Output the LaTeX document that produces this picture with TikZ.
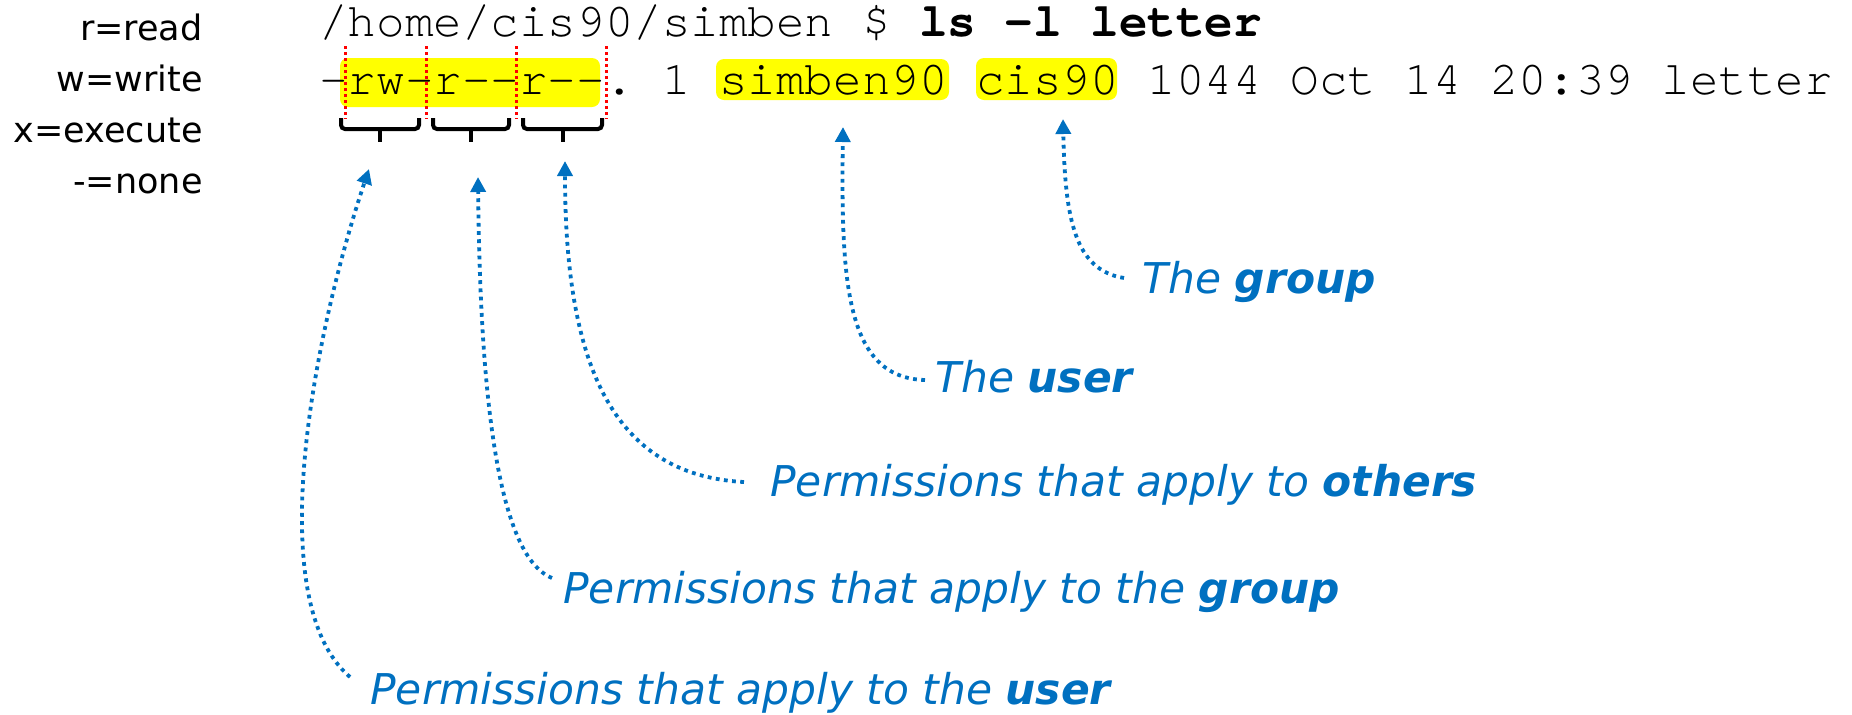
\documentclass[tikz,border=0pt]{standalone}
\usepackage{fontspec}
\setmainfont{DejaVu Sans}
\setmonofont{TeX Gyre Cursor}
\usetikzlibrary{positioning, arrows.meta, calc}
\definecolor{cNote}{HTML}{0070C0}
\definecolor{cMark}{HTML}{FFFF00}
\definecolor{cSplit}{HTML}{FF0000}

\begin{document}
\begin{tikzpicture}[x=0.5pt, y=-0.5pt,
    term/.style={font=\ttfamily\fontsize{23.8}{28}\selectfont, inner sep=0pt, anchor=base west},
    legend/.style={font=\fontsize{17.5}{21}\selectfont, inner sep=0pt, anchor=base east},
    note/.style={font=\itshape\fontsize{21.2}{25}\selectfont, text=cNote, inner sep=0pt, anchor=base west},
    callout/.style={draw=cNote, line width=1.9pt, dash pattern=on 1.9pt off 2.2pt,
      -{Triangle[length=7.5pt, width=7.5pt]}},
    hl/.style={fill=cMark, rounded corners=4pt},
    split/.style={draw=cSplit, line width=1.5pt, dash pattern=on 1.5pt off 1.5pt},
    bracket/.style={draw=black, line width=2pt, rounded corners=2pt}]
  \useasboundingbox (0,0) rectangle (1852,714);

  % highlighted fields
  \fill[hl] (340,58) rectangle (600,107);
  \fill[hl] (716,59) rectangle (949,100);
  \fill[hl] (976,58) rectangle (1117,100);

  \node[term] (prompt) at (319,36) {/home/cis90/simben \$ \textbf{ls -l letter}};
  \node[term] (listing) at (319,94) {-rw-r--r--. 1 simben90 cis90 1044 Oct 14 20:39 letter};

  \foreach \txt/\yy [count=\k] in {r=read/40, w=write/91, x=execute/142, -=none/193}
    \node[legend] (legend\k) at (203,\yy) {\txt};

  % splits between permission triplets
  \foreach \xx in {345, 426, 516, 606}
    \draw[split] (\xx,46) -- (\xx,119);

  \foreach \a/\b in {341/419, 433/509, 523/602}{
    \draw[bracket] (\a,118) -- (\a,129) -- (\b,129) -- (\b,118);
    \draw[bracket] ({(\a+\b)/2},129) -- ({(\a+\b)/2},142);
  }

  \node[note] (noteGrp) at (1142,293) {The \textbf{group}};
  \node[note] (noteUsr) at (935,392) {The \textbf{user}};
  \node[note] (noteOth) at (770,496) {Permissions that apply to \textbf{others}};
  \node[note] (notePGrp) at (563,603) {Permissions that apply to the \textbf{group}};
  \node[note] (notePUsr) at (370,704) {Permissions that apply to the \textbf{user}};

  \coordinate (tipPUsr) at (369,169);
  \coordinate (tipPGrp) at (478,177);
  \coordinate (tipOth) at (565,161);
  \coordinate (tipUsr) at (843,127);
  \coordinate (tipGrp) at (1063,119);

  \draw[callout] ($(notePUsr.base west)+(-20,-27)$) .. controls (260,600) and (315,330) .. (tipPUsr);
  \draw[callout] ($(notePGrp.base west)+(-11,-25)$) .. controls (495,555) and (480,380) .. (tipPGrp);
  \draw[callout] ($(noteOth.base west)+(-26,-14)$) .. controls (610,475) and (565,360) .. (tipOth);
  \draw[callout] ($(noteUsr.base west)+(-10,-12)$) .. controls (845,378) and (841,280) .. (tipUsr);
  \draw[callout] ($(noteGrp.base west)+(-18,-15)$) .. controls (1075,270) and (1065,220) .. (tipGrp);
\end{tikzpicture}
\end{document}
